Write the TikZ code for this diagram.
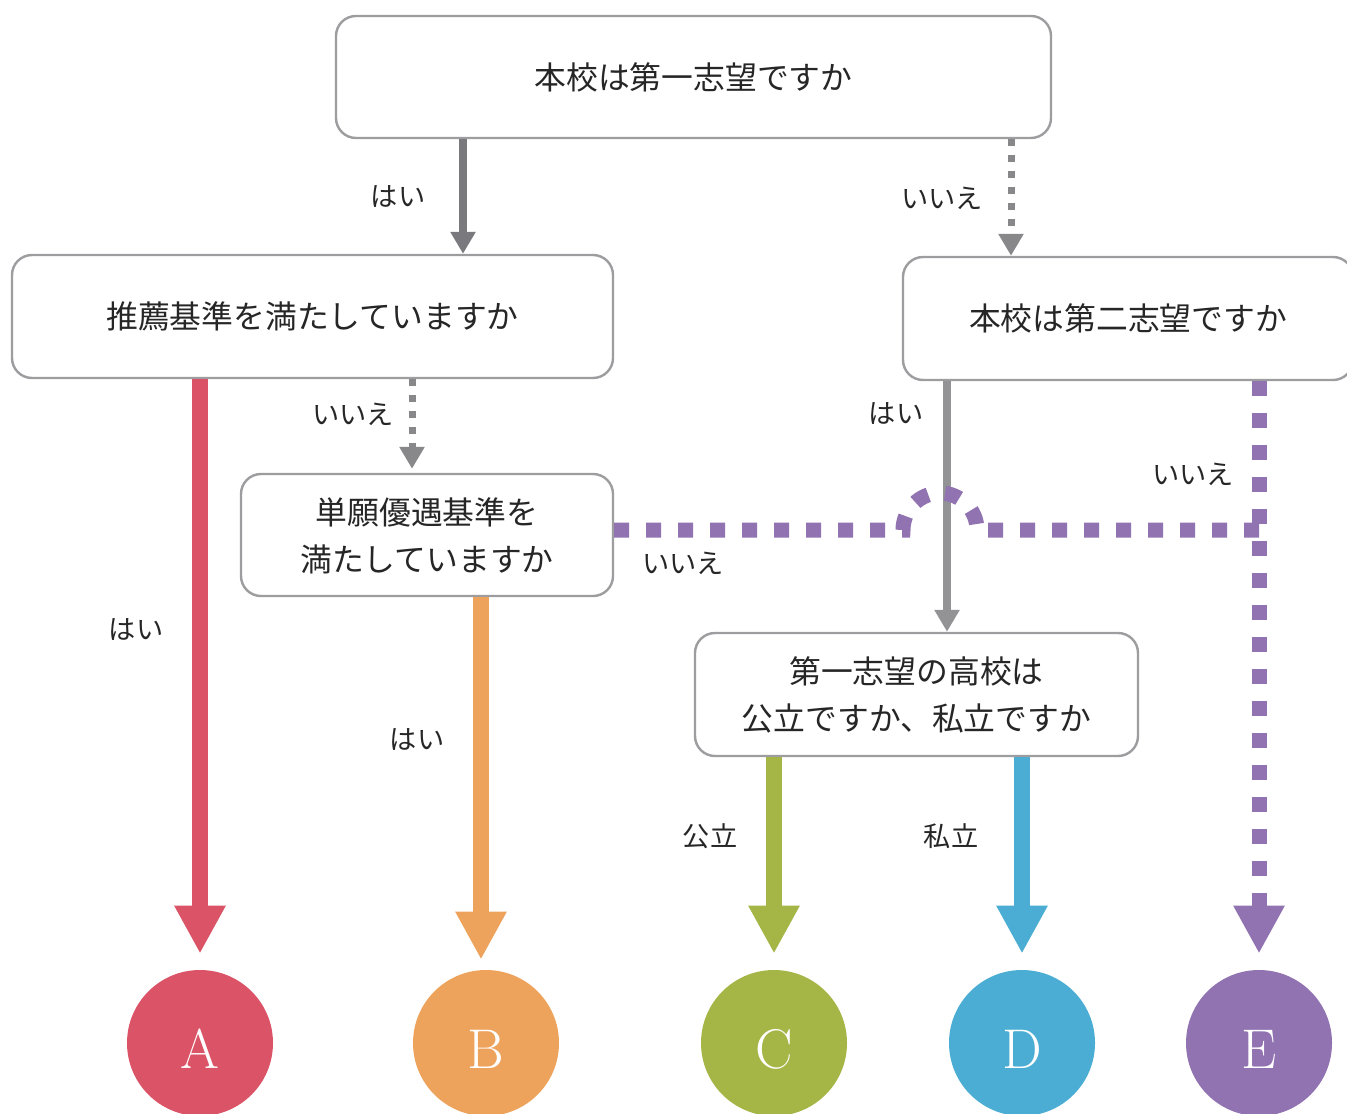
\documentclass[tikz,border=0pt]{standalone}
\usepackage{fontspec}
\newfontfamily\jp{Noto Sans CJK JP}
\usetikzlibrary{arrows.meta}
\definecolor{boxline}{HTML}{9D9DA0}
\definecolor{txt}{HTML}{262626}
\definecolor{gdark}{HTML}{7A7A7E}
\definecolor{glight}{HTML}{939396}
\definecolor{gdotc}{HTML}{88888B}
\definecolor{cA}{HTML}{DB5367}
\definecolor{cB}{HTML}{EDA35C}
\definecolor{cC}{HTML}{A5B546}
\definecolor{cD}{HTML}{4BADD3}
\definecolor{cE}{HTML}{9173B1}
\begin{document}
\begin{tikzpicture}[x=0.5pt,y=-0.5pt,
  qbox/.style={draw=boxline, line width=1.2pt, rounded corners=10pt, fill=white,
    text=txt, font=\jp\fontsize{15.9pt}{23.5pt}\selectfont, align=center, inner sep=0pt},
  lbl/.style={text=txt, font=\jp\fontsize{13.6pt}{16pt}\selectfont, inner sep=0pt},
  res/.style={circle, minimum size=73pt, inner sep=0pt, text=white,
    font=\fontsize{28pt}{28pt}\selectfont, text height=25pt, text depth=0pt},
  bigarrow/.style={line width=8pt, -{Triangle[width=24pt,length=24pt]}},
  thinarrow/.style={line width=4pt, -{Triangle[width=12pt,length=11pt]}},
  gdot/.style={draw=gdotc, line width=3.5pt, dash pattern=on 3.5pt off 4.5pt,
    -{Triangle[width=12pt,length=11pt]}},
  pdot/.style={draw=cE, line width=7.5pt, dash pattern=on 7.5pt off 8.5pt}
]
\useasboundingbox (0,0) rectangle (1347,1113);

% question boxes
\node[qbox, minimum width=357.5pt, minimum height=61pt] (b1) at (693.5,77) {本校は第一志望ですか};
\node[qbox, minimum width=300.5pt, minimum height=61.5pt] (b2) at (312.5,316.5) {推薦基準を満たしていますか};
\node[qbox, minimum width=225pt, minimum height=61.5pt] (b3) at (1128,318.5) {本校は第二志望ですか};
\node[qbox, minimum width=186pt, minimum height=61pt] (b4) at (427,535) {\rule{0pt}{14pt}単願優遇基準を\\満たしていますか};
\node[qbox, minimum width=221.5pt, minimum height=61.5pt] (b5) at (916.5,694.5) {\rule{0pt}{14pt}第一志望の高校は\\公立ですか、私立ですか};

% results
\node[res, fill=cA] (A) at (200,1043) {A};
\node[res, fill=cB] (B) at (486,1043) {B};
\node[res, fill=cC] (C) at (774,1043) {C};
\node[res, fill=cD] (D) at (1022,1043) {D};
\node[res, fill=cE] (E) at (1259,1043) {E};

% column helpers
\coordinate (x1) at (463,0);
\coordinate (x2) at (1011,0);
\coordinate (x3) at (412,0);
\coordinate (x4) at (481,0);
\coordinate (x5) at (947,0);
\coordinate (j) at (1259,530);
\coordinate (hopL) at (903,530);

% connectors
\draw[thinarrow, gdark] (x1 |- b1.south) -- (x1 |- b2.north);
\draw[gdot] (x2 |- b1.south) -- (x2 |- b3.north);
\draw[bigarrow, cA, shorten >=8pt] (A |- b2.south) -- (A.north);
\draw[gdot, shorten >=2pt] (x3 |- b2.south) -- (x3 |- b4.north);
\draw[bigarrow, cB, shorten >=5pt] (x4 |- b4.south) -- (x4 |- B.north);
\draw[thinarrow, glight] (x5 |- b3.south) -- (x5 |- b5.north);
\draw[pdot] (b4.east |- j) -- (hopL) arc[start angle=180, end angle=360, radius=37] -- (j);
\draw[pdot, -{Triangle[width=24pt,length=24pt]}, shorten >=8pt] (E |- b3.south) -- (E.north);
\draw[bigarrow, cC, shorten >=8pt] (C |- b5.south) -- (C.north);
\draw[bigarrow, cD, shorten >=8pt] (D |- b5.south) -- (D.north);

% labels
\node[lbl] (l1) at (398,197) {はい};
\node[lbl] (l2) at (942,198) {いいえ};
\node[lbl] (l3) at (353,414) {いいえ};
\node[lbl] (l4) at (136,630) {はい};
\node[lbl] (l5) at (417,740) {はい};
\node[lbl] (l6) at (683,563) {いいえ};
\node[lbl] (l7) at (896,414) {はい};
\node[lbl] (l8) at (1193,474) {いいえ};
\node[lbl] (l9) at (710,836) {公立};
\node[lbl] (l10) at (951,836) {私立};
\end{tikzpicture}
\end{document}
